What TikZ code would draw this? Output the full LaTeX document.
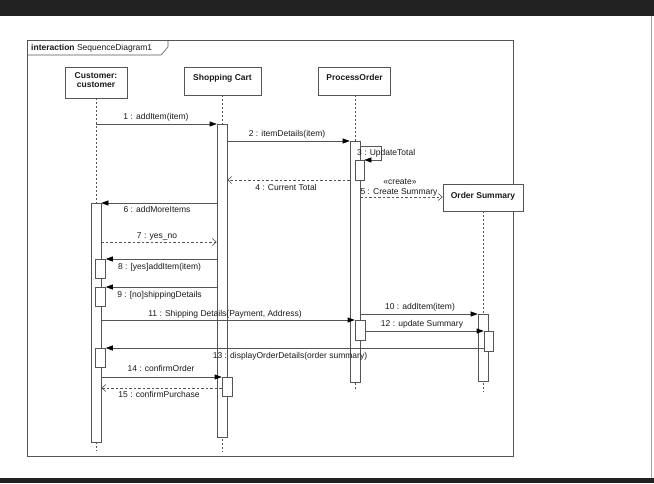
\documentclass[tikz,border=0pt]{standalone}
\usepackage{fontspec}
\setmainfont{Liberation Sans}
\usetikzlibrary{arrows.meta}
\definecolor{linec}{HTML}{555555}
\definecolor{barc}{HTML}{222222}
\definecolor{txtc}{HTML}{1A1A1A}
\begin{document}
\begin{tikzpicture}[x=1pt,y=-1pt,
  font=\fontsize{8.5}{10}\selectfont, text=txtc,
  headbox/.style={draw=linec, fill=white, font=\fontsize{8.5}{10}\selectfont\bfseries, align=center, inner sep=0pt, line width=0.6pt},
  actbox/.style={draw=linec, fill=white, inner sep=0pt, minimum width=10pt, anchor=north, line width=0.6pt},
  lifeline/.style={draw=linec, line width=0.5pt, dash pattern=on 2pt off 2pt},
  msg/.style={draw=linec, line width=0.6pt, -{Triangle[length=7pt,width=5pt,fill=black,color=black]}},
  reply/.style={draw=linec, line width=0.6pt, dash pattern=on 2.5pt off 2pt, -{Straight Barb[length=4pt,width=7pt,color=linec]}},
  lbl/.style={inner sep=0pt, text height=6pt, text depth=2pt}
]
\useasboundingbox (0,0) rectangle (654,483);
\fill[white] (0,0) rectangle (654,483);
% window bars
\fill[barc] (0,0) rectangle (654,16);
\fill[barc] (0,478) rectangle (654,483);
\draw[gray!70, line width=0.6pt] (651,16) -- (651,478);

% interaction frame
\draw[linec, line width=0.6pt] (27,40) rectangle (513,456);
\draw[linec, line width=0.6pt] (27,55) -- (161,55) -- (168,47) -- (168,40);
\node[lbl, anchor=west] (title) at (31,48) {\textbf{interaction} SequenceDiagram1};

% lifeline heads
\node[headbox, minimum width=62pt, minimum height=31pt, text depth=5pt] (cust) at (96,82.5) {Customer:\\[-1pt]customer};
\node[headbox, minimum width=77pt, minimum height=28pt, text depth=8pt] (cart) at (222.5,81) {Shopping Cart};
\node[headbox, minimum width=72pt, minimum height=28pt, text depth=8pt] (proc) at (354.5,81) {ProcessOrder};

% lifeline ends
\coordinate (custEnd) at (96,451);
\coordinate (cartEnd) at (222,452);
\coordinate (procEnd) at (355,391);
\coordinate (summEnd) at (483,392);

% message heights
\coordinate (m1) at (0,124);
\coordinate (m2) at (0,141);
\coordinate (m3) at (0,146);
\coordinate (m4) at (0,180);
\coordinate (m5) at (0,197);
\coordinate (m6) at (0,203);
\coordinate (m7) at (0,242);
\coordinate (m8) at (0,259);
\coordinate (m9) at (0,287);
\coordinate (m10) at (0,314);
\coordinate (m11) at (0,320);
\coordinate (m12) at (0,331);
\coordinate (m13) at (0,348);
\coordinate (m14) at (0,377);
\coordinate (m15) at (0,388);

% lifelines
\draw[lifeline] (cust.south -| custEnd) -- (custEnd);
\draw[lifeline] (cart.south -| cartEnd) -- (cartEnd);
\draw[lifeline] (proc.south -| procEnd) -- (procEnd);

% Order Summary head (created by message 5)
\node[headbox, minimum width=80pt, minimum height=27pt, text depth=5pt] (summ) at (483,197.5) {Order Summary};
\draw[lifeline] (summ.south -| summEnd) -- (summEnd);

% activations
\node[actbox, minimum height=313pt] (cartA) at (222,124) {};
\node[actbox, minimum height=241pt] (procA) at (355,141) {};
\node[actbox, minimum height=239pt] (custA) at (96,203) {};
\node[actbox, minimum width=9pt, minimum height=20pt] (procS) at (359.5,160) {};
\node[actbox, minimum height=67pt] (sumA) at (483,314) {};
\node[actbox, minimum width=9pt, minimum height=20pt] (sumB) at (488.5,331) {};
\node[actbox, minimum height=20pt] (procB) at (360,320) {};
\node[actbox, minimum height=19pt] (custB) at (100.5,259) {};
\node[actbox, minimum height=19pt] (custC) at (100.5,287) {};
\node[actbox, minimum height=19pt] (custD) at (100.5,348) {};
\node[actbox, minimum height=19pt] (cartB) at (227,377) {};

% messages
\draw[msg] (cust.south |- m1) -- (cartA.west |- m1);
\node[lbl] (l1) at (156,117) {1 : addItem(item)};

\draw[msg] (cartA.east |- m2) -- (procA.west |- m2);
\node[lbl] (l2) at (287,134) {2 : itemDetails(item)};

\coordinate (selfTurn) at (381,146);
\draw[msg] (procA.east |- m3) -- (selfTurn) |- (procS.north east);
\node[lbl, anchor=west] (l3) at (357,153) {3 : UpdateTotal};

\draw[reply] (procA.west |- m4) -- (cartA.east |- m4);
\node[lbl] (l4) at (286,188) {4 : Current Total};

\draw[reply] (procA.east |- m5) -- (summ.west |- m5);
\node[lbl] (l5a) at (400,182) {«create»};
\node[lbl] (l5) at (399,192) {5 : Create Summary};

\draw[msg] (cartA.west |- m6) -- (custA.east |- m6);
\node[lbl] (l6) at (157,210) {6 : addMoreItems};

\draw[reply] (custA.east |- m7) -- (cartA.west |- m7);
\node[lbl] (l7) at (157,236) {7 : yes\_no};

\draw[msg] (cartA.west |- m8) -- (custB.east |- m8);
\node[lbl] (l8) at (159.5,267) {8 : [yes]addItem(item)};

\draw[msg] (cartA.west |- m9) -- (custC.east |- m9);
\node[lbl] (l9) at (159.5,295) {9 : [no]shippingDetails};

\draw[msg] (procA.east |- m10) -- (sumA.west |- m10);
\node[lbl] (l10) at (420,307) {10 : addItem(item)};

\draw[msg] (custA.east |- m11) -- (procB.west |- m11);
\node[lbl] (l11) at (225,314) {11 : Shipping Details(Payment, Address)};

\draw[msg] (procB.east |- m12) -- (sumB.west |- m12);
\node[lbl] (l12) at (422,324) {12 : update Summary};

\draw[msg] (sumB.west |- m13) -- (custD.east |- m13);
\node[lbl] (l13) at (290,356) {13 : displayOrderDetails(order summary)};

\draw[msg] (custA.east |- m14) -- (cartB.west |- m14);
\node[lbl] (l14) at (161,369) {14 : confirmOrder};

\draw[reply] (cartB.west |- m15) -- (custA.east |- m15);
\node[lbl] (l15) at (159,395) {15 : confirmPurchase};
\end{tikzpicture}
\end{document}
